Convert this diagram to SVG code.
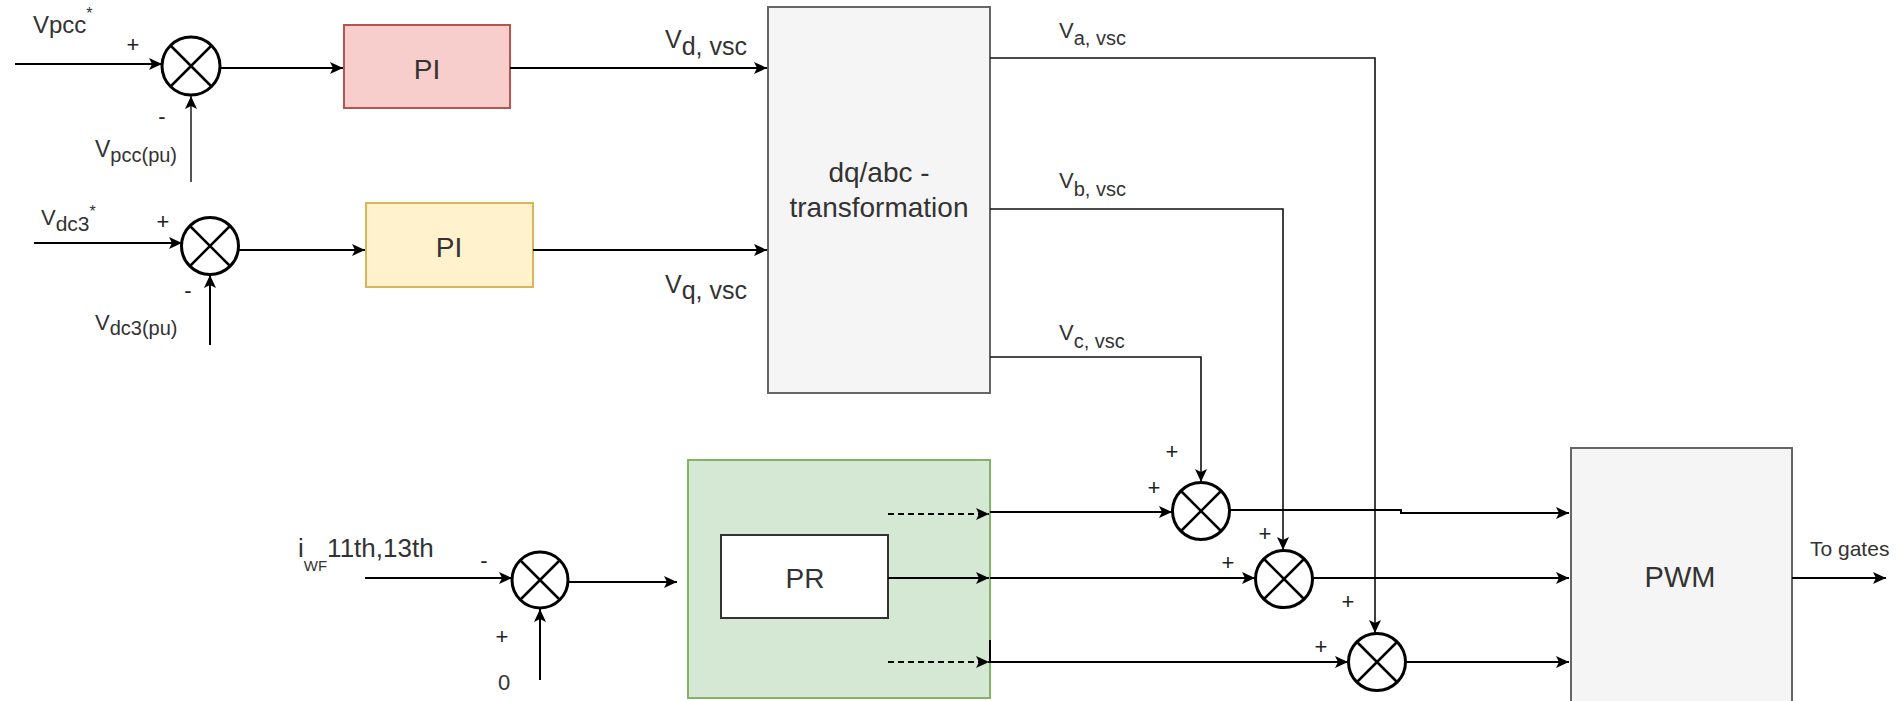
<svg xmlns="http://www.w3.org/2000/svg" width="1897" height="701" viewBox="0 0 1897 701">
<style>
  .t{font-family:"Liberation Sans",Arial,sans-serif;fill:#333;}
  .ln{fill:none;stroke:#000;stroke-width:2;}
  .thin{fill:none;stroke:#111;stroke-width:1.6;}
  .dash{fill:none;stroke:#000;stroke-width:2;stroke-dasharray:6,4;}
  .sum{fill:#fff;stroke:#000;stroke-width:3;}
  .x{stroke:#000;stroke-width:2.5;}
  .sign{font-family:"Liberation Sans",Arial,sans-serif;fill:#222;font-size:22px;text-anchor:middle;}
</style>
<defs>
  <marker id="arr" markerUnits="userSpaceOnUse" markerWidth="14" markerHeight="12" refX="13" refY="6" orient="auto">
    <path d="M0,0 L13,6 L0,12 L3,6 z" fill="#000"/>
  </marker>
</defs>

<g id="pi1">
  <rect x="344" y="25" width="166" height="83" fill="#f8cecc" stroke="#b85450" stroke-width="2"/>
  <text class="t" x="427" y="79" font-size="28" text-anchor="middle">PI</text>
</g>
<g id="pi2">
  <rect x="366" y="203" width="167" height="84" fill="#fff2cc" stroke="#d6b656" stroke-width="2"/>
  <text class="t" x="449" y="257" font-size="28" text-anchor="middle">PI</text>
</g>
<g id="dqabc">
  <rect x="768" y="7" width="222" height="386" fill="#f5f5f5" stroke="#666" stroke-width="2"/>
  <text class="t" x="879" y="182" font-size="28" text-anchor="middle">dq/abc -</text>
  <text class="t" x="879" y="217" font-size="28" text-anchor="middle">transformation</text>
</g>
<g id="prblock">
  <rect x="688" y="460" width="302" height="238" fill="#d5e8d4" stroke="#82b366" stroke-width="2"/>
  <rect x="721" y="535" width="167" height="83" fill="#fff" stroke="#333" stroke-width="2"/>
  <text class="t" x="805" y="588" font-size="28" text-anchor="middle">PR</text>
</g>
<g id="pwm">
  <rect x="1571" y="448" width="221" height="262" fill="#f5f5f5" stroke="#666" stroke-width="2"/>
  <text class="t" x="1680" y="587" font-size="29" text-anchor="middle">PWM</text>
</g>

<g id="connectors">
  <path class="ln" d="M15,64 H162" marker-end="url(#arr)"/>
  <path class="ln" d="M220,68 H343" marker-end="url(#arr)"/>
  <path class="ln" style="stroke:#555" d="M191,182 V96" marker-end="url(#arr)"/>
  <path class="ln" d="M510,68 H767" marker-end="url(#arr)"/>

  <path class="ln" d="M34,243 H182" marker-end="url(#arr)"/>
  <path class="ln" d="M238,250 H365" marker-end="url(#arr)"/>
  <path class="ln" d="M210,345 V275" marker-end="url(#arr)"/>
  <path class="ln" d="M533,250 H767" marker-end="url(#arr)"/>

  <path class="thin" d="M990,58 H1375 V633" marker-end="url(#arr)"/>
  <path class="thin" d="M990,209 H1283 V550" marker-end="url(#arr)"/>
  <path class="thin" d="M990,357 H1201 V482" marker-end="url(#arr)"/>

  <path class="ln" d="M365,578 H512" marker-end="url(#arr)"/>
  <path class="ln" d="M540,680 V609" marker-end="url(#arr)"/>
  <path class="ln" d="M568,582 H677" marker-end="url(#arr)"/>

  <path class="dash" d="M888,514 H989" marker-end="url(#arr)"/>
  <path class="ln" d="M888,578 H989" marker-end="url(#arr)"/>
  <path class="dash" d="M888,662 H989" marker-end="url(#arr)"/>

  <path class="ln" d="M990,512 H1172" marker-end="url(#arr)"/>
  <path class="ln" d="M990,578 H1255" marker-end="url(#arr)"/>
  <path class="ln" d="M990,640 V662 H1348" marker-end="url(#arr)"/>

  <path class="ln" d="M1230,510 H1401 V513 H1569" marker-end="url(#arr)"/>
  <path class="ln" d="M1313,578 H1569" marker-end="url(#arr)"/>
  <path class="ln" d="M1406,662 H1569" marker-end="url(#arr)"/>
  <path class="ln" d="M1792,578 H1886" marker-end="url(#arr)"/>
</g>

<g id="sum1">
  <circle class="sum" cx="191" cy="66" r="29"/>
  <path class="x" d="M170.5,45.5 L211.5,86.5 M211.5,45.5 L170.5,86.5"/>
  <text class="sign" x="133" y="52">+</text>
  <text class="sign" x="162" y="124">-</text>
</g>
<g id="sum2">
  <circle class="sum" cx="210" cy="246" r="28.5"/>
  <path class="x" d="M190,226 L230,266 M230,226 L190,266"/>
  <text class="sign" x="163" y="229">+</text>
  <text class="sign" x="188" y="298">-</text>
</g>
<g id="sum3">
  <circle class="sum" cx="540" cy="580" r="28"/>
  <path class="x" d="M520,560 L560,600 M560,560 L520,600"/>
  <text class="sign" x="484" y="568">-</text>
  <text class="sign" x="502" y="644">+</text>
</g>
<g id="sum4">
  <circle class="sum" cx="1201" cy="511" r="28.5"/>
  <path class="x" d="M1181,491 L1221,531 M1221,491 L1181,531"/>
  <text class="sign" x="1172" y="459">+</text>
  <text class="sign" x="1154" y="495">+</text>
</g>
<g id="sum5">
  <circle class="sum" cx="1284" cy="579" r="28.5"/>
  <path class="x" d="M1264,559 L1304,599 M1304,559 L1264,599"/>
  <text class="sign" x="1265" y="541">+</text>
  <text class="sign" x="1228" y="570">+</text>
</g>
<g id="sum6">
  <circle class="sum" cx="1377" cy="662" r="28.5"/>
  <path class="x" d="M1357,642 L1397,682 M1397,642 L1357,682"/>
  <text class="sign" x="1348" y="609">+</text>
  <text class="sign" x="1321" y="654">+</text>
</g>

<g id="labels">
  <text class="t" x="33" y="33" font-size="24">Vpcc<tspan font-size="16" dy="-14">*</tspan></text>
  <text class="t" x="95" y="157" font-size="23">V<tspan font-size="20" dy="5">pcc(pu)</tspan></text>
  <text class="t" x="41" y="225" font-size="22">V<tspan font-size="21" dy="6">dc3</tspan><tspan font-size="16" dy="-14">*</tspan></text>
  <text class="t" x="95" y="330" font-size="22">V<tspan font-size="20" dy="5">dc3(pu)</tspan></text>
  <text class="t" x="665" y="48" font-size="25">V<tspan font-size="25" dy="7">d, vsc</tspan></text>
  <text class="t" x="665" y="293" font-size="25">V<tspan font-size="25" dy="6">q, vsc</tspan></text>
  <text class="t" x="1059" y="38" font-size="22">V<tspan font-size="20" dy="7">a, vsc</tspan></text>
  <text class="t" x="1059" y="188" font-size="22">V<tspan font-size="20" dy="8">b, vsc</tspan></text>
  <text class="t" x="1059" y="340" font-size="22">V<tspan font-size="20" dy="8">c, vsc</tspan></text>
  <text class="t" x="298" y="557" font-size="26">i<tspan font-size="15" dy="14">WF</tspan><tspan dy="-14">11th,13th</tspan></text>
  <text class="t" x="504" y="690" font-size="22" text-anchor="middle">0</text>
  <text class="t" x="1810" y="556" font-size="21">To gates</text>
</g>
</svg>
